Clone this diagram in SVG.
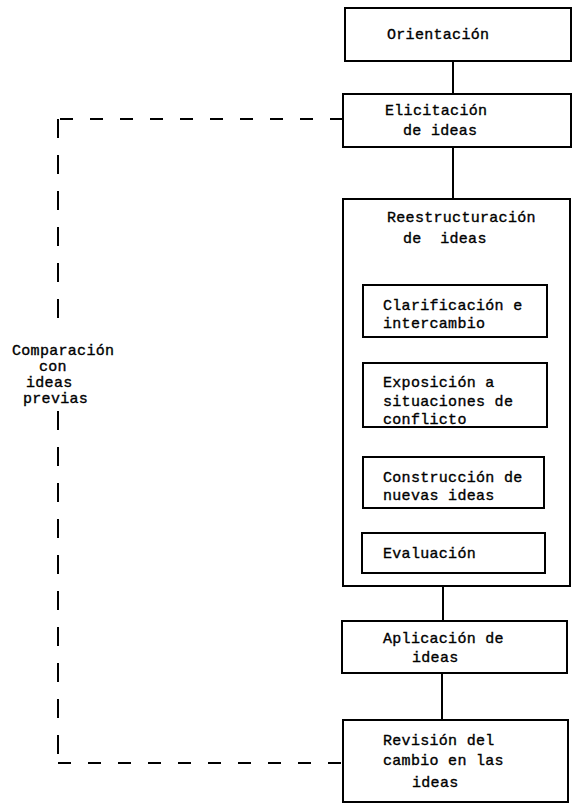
<svg xmlns="http://www.w3.org/2000/svg" width="576" height="804" viewBox="0 0 576 804">
<style>
.box{fill:#fff;stroke:#000;stroke-width:2}
.t{font-family:"Liberation Mono","DejaVu Sans Mono",monospace;font-size:15px;letter-spacing:0.3px;fill:#000;stroke:#000;stroke-width:0.35}
.ln{stroke:#000;stroke-width:2;fill:none}
.dh{stroke:#000;stroke-width:2;fill:none;stroke-dasharray:13 17}
.dv{stroke:#000;stroke-width:2;fill:none;stroke-dasharray:19 17}
</style>
<rect width="576" height="804" fill="#fff"/>
<g id="connectors">
<line class="ln" x1="453" y1="61" x2="453" y2="94"/>
<line class="ln" x1="453" y1="147" x2="453" y2="199"/>
<line class="ln" x1="443" y1="586" x2="443" y2="621"/>
<line class="ln" x1="442" y1="673" x2="442" y2="720"/>
<path class="dh" d="M343 119 H58"/>
<path class="dv" d="M58 119 V320"/>
<path class="dv" d="M58 411 V763"/>
<path class="dh" d="M58 763 H343"/>
</g>
<g id="orientacion">
<rect class="box" x="345" y="8" width="226" height="53"/>
<text class="t" x="387" y="39">Orientación</text>
</g>
<g id="elicitacion">
<rect class="box" x="343" y="94" width="228" height="53"/>
<text class="t" x="385" y="115">Elicitación</text>
<text class="t" x="403" y="135">de ideas</text>
</g>
<g id="reestructuracion">
<rect class="box" x="343" y="199" width="227" height="387"/>
<text class="t" x="387" y="222">Reestructuración</text>
<text class="t" x="403" y="243" xml:space="preserve">de  ideas</text>
</g>
<g id="clarificacion">
<rect class="box" x="363" y="285" width="184" height="52"/>
<text class="t" x="383" y="310">Clarificación e</text>
<text class="t" x="383" y="328">intercambio</text>
</g>
<g id="exposicion">
<rect class="box" x="363" y="363" width="184" height="64"/>
<text class="t" x="383" y="387">Exposición a</text>
<text class="t" x="383" y="406">situaciones de</text>
<text class="t" x="383" y="424">conflicto</text>
</g>
<g id="construccion">
<rect class="box" x="363" y="457" width="181" height="51"/>
<text class="t" x="383" y="482">Construcción de</text>
<text class="t" x="383" y="500">nuevas ideas</text>
</g>
<g id="evaluacion">
<rect class="box" x="362" y="533" width="183" height="40"/>
<text class="t" x="383" y="558">Evaluación</text>
</g>
<g id="aplicacion">
<rect class="box" x="342" y="621" width="225" height="52"/>
<text class="t" x="383" y="643">Aplicación de</text>
<text class="t" x="412" y="662">ideas</text>
</g>
<g id="revision">
<rect class="box" x="343" y="720" width="225" height="82"/>
<text class="t" x="383" y="745">Revisión del</text>
<text class="t" x="383" y="765">cambio en las</text>
<text class="t" x="412" y="787">ideas</text>
</g>
<g id="comparacion">
<text class="t" x="12" y="355">Comparación</text>
<text class="t" x="39" y="371">con</text>
<text class="t" x="26" y="387">ideas</text>
<text class="t" x="23" y="403">previas</text>
</g>
</svg>
